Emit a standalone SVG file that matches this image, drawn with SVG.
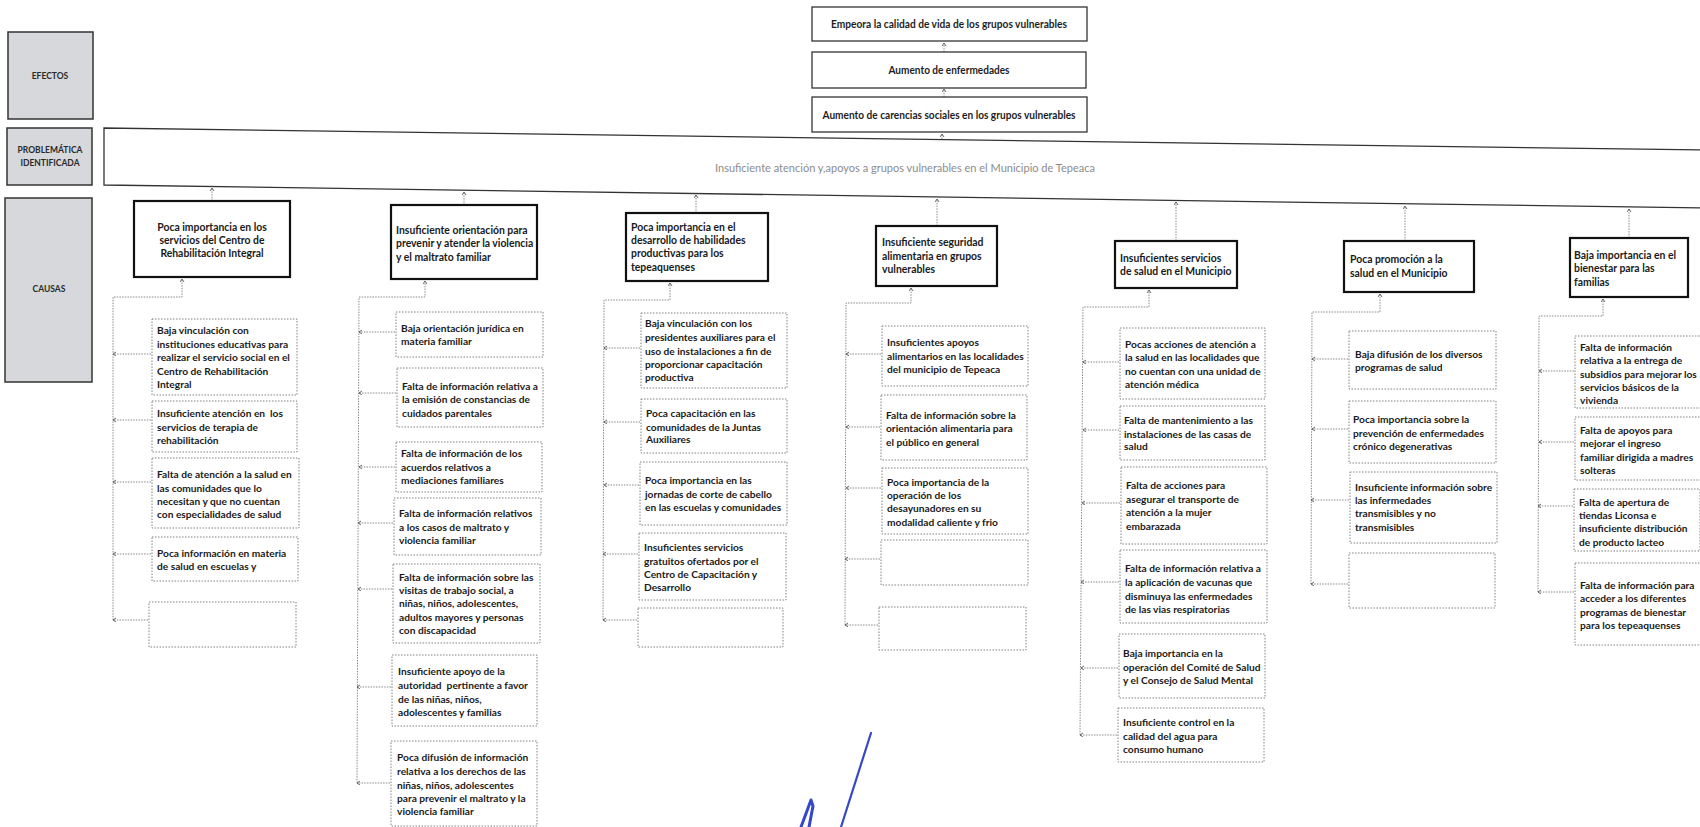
<svg xmlns="http://www.w3.org/2000/svg" width="1700" height="827" viewBox="0 0 1700 827">
<style>
.lab{fill:#d6d8db;stroke:#333;stroke-width:1.5}
.labt{font-family:Lato,"Liberation Sans",sans-serif;font-weight:bold;font-size:8.5px;fill:#2a2a2a;text-anchor:middle}
.eb{fill:#fff;stroke:#333;stroke-width:1.3}
.et{font-family:Lato,"Liberation Sans",sans-serif;font-weight:bold;font-size:11px;fill:#1e1e1e;text-anchor:middle}
.pb{fill:#fff;stroke:#333;stroke-width:1.3}
.pt{font-family:Lato,"Liberation Sans",sans-serif;font-weight:normal;font-size:11px;fill:#8c8c8c;text-anchor:middle}
.kb{fill:#fff;stroke:#111;stroke-width:2.2}
.kt{font-family:Lato,"Liberation Sans",sans-serif;font-weight:bold;font-size:10.4px;fill:#1a1a1a;white-space:pre}
.cb{fill:#fff;stroke:#808080;stroke-width:1;stroke-dasharray:1.5 1.5}
.ct{font-family:Lato,"Liberation Sans",sans-serif;font-weight:bold;font-size:10.2px;fill:#1a1a1a;white-space:pre}
.cn{fill:none;stroke:#8a8a8a;stroke-width:1;stroke-dasharray:1.5 1.2;marker-end:url(#ah)}
</style>
<defs>
<marker id="ah" markerWidth="5" markerHeight="5" refX="3" refY="2" orient="auto" markerUnits="userSpaceOnUse"><path d="M0,0 L3,2 L0,4" fill="none" stroke="#555" stroke-width="0.9"/></marker>
</defs>
<rect width="1700" height="827" fill="#fff"/>

<g id="labels">
<g id="lab-efectos"><rect class="lab" x="8" y="32" width="85" height="87"/><text class="labt" x="50" y="79">EFECTOS</text></g>
<g id="lab-problematica"><rect class="lab" x="7" y="128" width="85" height="57"/><text class="labt" x="50" y="153">PROBLEMÁTICA</text><text class="labt" x="50" y="166">IDENTIFICADA</text></g>
<g id="lab-causas"><rect class="lab" x="5" y="198" width="87" height="184"/><text class="labt" x="49" y="292">CAUSAS</text></g>
</g>

<g id="connectors">
<path class="cn" d="M944 52 L944 43"/>
<path class="cn" d="M944 97 L944 89"/>
<path class="cn" d="M942 139 L942 134"/>
<path class="cn" d="M212 201 L212 188"/>
<path class="cn" d="M464 205 L464 192"/>
<path class="cn" d="M696 213 L696 195"/>
<path class="cn" d="M937 226 L937 199"/>
<path class="cn" d="M1176 241 L1176 202"/>
<path class="cn" d="M1405 241 L1405 206"/>
<path class="cn" d="M1629 238 L1629 209"/>
<!-- column 1 -->
<path class="cn" d="M113 620 L113 297 L182 297 L182 279"/>
<path class="cn" d="M151 354 L113 354"/>
<path class="cn" d="M151 420 L113 420"/>
<path class="cn" d="M151 482 L113 482"/>
<path class="cn" d="M151 554 L113 554"/>
<path class="cn" d="M148 620 L113 620"/>
<!-- column 2 -->
<path class="cn" d="M357 783 L359 297 L425 297 L425 281"/>
<path class="cn" d="M395 332 L359 332"/>
<path class="cn" d="M396 393 L359 393"/>
<path class="cn" d="M395 467 L359 467"/>
<path class="cn" d="M393 523 L358 523"/>
<path class="cn" d="M392 589 L358 589"/>
<path class="cn" d="M391 687 L357 687"/>
<path class="cn" d="M390 783 L357 783"/>
<!-- column 3 -->
<path class="cn" d="M603 620 L604 300 L670 300 L670 283"/>
<path class="cn" d="M640 348 L604 348"/>
<path class="cn" d="M640 422 L604 422"/>
<path class="cn" d="M639 485 L604 485"/>
<path class="cn" d="M638 554 L603 554"/>
<path class="cn" d="M637 620 L603 620"/>
<!-- column 4 -->
<path class="cn" d="M845 625 L846 303 L911 303 L911 288"/>
<path class="cn" d="M881 354 L846 354"/>
<path class="cn" d="M880 427 L846 427"/>
<path class="cn" d="M881 488 L846 488"/>
<path class="cn" d="M880 559 L845 559"/>
<path class="cn" d="M878 625 L845 625"/>
<!-- column 5 -->
<path class="cn" d="M1080 735 L1083 307 L1149 307 L1149 290"/>
<path class="cn" d="M1119 362 L1083 362"/>
<path class="cn" d="M1119 430 L1083 430"/>
<path class="cn" d="M1120 503 L1082 503"/>
<path class="cn" d="M1119 582 L1081 582"/>
<path class="cn" d="M1118 668 L1081 668"/>
<path class="cn" d="M1117 735 L1080 735"/>
<!-- column 6 -->
<path class="cn" d="M1311 584 L1312 312 L1380 312 L1380 294"/>
<path class="cn" d="M1348 359 L1312 359"/>
<path class="cn" d="M1348 429 L1312 429"/>
<path class="cn" d="M1349 500 L1311 500"/>
<path class="cn" d="M1348 584 L1311 584"/>
<!-- column 7 -->
<path class="cn" d="M1538 592 L1539 316 L1603 316 L1603 299"/>
<path class="cn" d="M1574 371 L1539 371"/>
<path class="cn" d="M1574 442 L1539 442"/>
<path class="cn" d="M1573 506 L1538 506"/>
<path class="cn" d="M1574 592 L1538 592"/>
</g>

<g id="effects">
<g id="e1"><rect class="eb" x="812" y="7" width="275" height="34"/><text class="et" x="949" y="28" textLength="236" lengthAdjust="spacingAndGlyphs">Empeora la calidad de vida de los grupos vulnerables</text></g>
<g id="e2"><rect class="eb" x="812" y="52" width="274" height="36"/><text class="et" x="949" y="74" textLength="121" lengthAdjust="spacingAndGlyphs">Aumento de enfermedades</text></g>
<g id="e3"><rect class="eb" x="812" y="97" width="275" height="35"/><text class="et" x="949" y="119" textLength="253" lengthAdjust="spacingAndGlyphs">Aumento de carencias sociales en los grupos vulnerables</text></g>
</g>

<g id="problem">
<path class="pb" d="M1702 150 L104 128 L104 185 L1702 208"/>
<text class="pt" x="905" y="172" textLength="380" lengthAdjust="spacingAndGlyphs">Insuficiente atención y,apoyos a grupos vulnerables en el Municipio de Tepeaca</text>
</g>

<g id="causes">
<g id="k1"><rect class="kb" x="134" y="201" width="156" height="76"/><text class="kt" text-anchor="middle"><tspan x="212" y="231">Poca importancia en los</tspan><tspan x="212" y="244">servicios del Centro de</tspan><tspan x="212" y="257">Rehabilitación Integral</tspan></text></g>
<g id="k2"><rect class="kb" x="391" y="205" width="146" height="74"/><text class="kt"><tspan x="396" y="234">Insuficiente orientación para</tspan><tspan x="396" y="247">prevenir y atender la violencia</tspan><tspan x="396" y="261">y el maltrato familiar</tspan></text></g>
<g id="k3"><rect class="kb" x="626" y="213" width="142" height="68"/><text class="kt"><tspan x="631" y="231">Poca importancia en el</tspan><tspan x="631" y="244">desarrollo de habilidades</tspan><tspan x="631" y="257">productivas para los</tspan><tspan x="631" y="271">tepeaquenses</tspan></text></g>
<g id="k4"><rect class="kb" x="876" y="226" width="121" height="60"/><text class="kt"><tspan x="882" y="246">Insuficiente seguridad</tspan><tspan x="882" y="260">alimentaria en grupos</tspan><tspan x="882" y="273">vulnerables</tspan></text></g>
<g id="k5"><rect class="kb" x="1115" y="241" width="122" height="47"/><text class="kt"><tspan x="1120" y="262">Insuficientes servicios</tspan><tspan x="1120" y="275">de salud en el Municipio</tspan></text></g>
<g id="k6"><rect class="kb" x="1344" y="241" width="130" height="51"/><text class="kt"><tspan x="1350" y="263">Poca promoción a la</tspan><tspan x="1350" y="277">salud en el Municipio</tspan></text></g>
<g id="k7"><rect class="kb" x="1570" y="238" width="118" height="59"/><text class="kt"><tspan x="1574" y="259">Baja importancia en el</tspan><tspan x="1574" y="272">bienestar para las</tspan><tspan x="1574" y="286">familias</tspan></text></g>
</g>

<g id="col1">
<g id="n1a"><rect class="cb" x="152" y="319" width="145" height="76"/><text class="ct"><tspan x="157" y="334">Baja vinculación con</tspan><tspan x="157" y="348">instituciones educativas para</tspan><tspan x="157" y="361">realizar el servicio social en el</tspan><tspan x="157" y="375">Centro de Rehabilitación</tspan><tspan x="157" y="388">Integral</tspan></text></g>
<g id="n1b"><rect class="cb" x="152" y="401" width="145" height="51"/><text class="ct"><tspan x="157" y="417">Insuficiente atención en  los</tspan><tspan x="157" y="431">servicios de terapia de</tspan><tspan x="157" y="444">rehabilitación</tspan></text></g>
<g id="n1c"><rect class="cb" x="152" y="458" width="147" height="70"/><text class="ct"><tspan x="157" y="478">Falta de atención a la salud en</tspan><tspan x="157" y="492">las comunidades que lo</tspan><tspan x="157" y="505">necesitan y que no cuentan</tspan><tspan x="157" y="518">con especialidades de salud</tspan></text></g>
<g id="n1d"><rect class="cb" x="152" y="537" width="146" height="44"/><text class="ct"><tspan x="157" y="557">Poca información en materia</tspan><tspan x="157" y="570">de salud en escuelas y</tspan></text></g>
<g id="n1e"><rect class="cb" x="149" y="602" width="147" height="45"/></g>
</g>

<g id="col2">
<g id="n2a"><rect class="cb" x="396" y="312" width="147" height="45"/><text class="ct"><tspan x="401" y="332">Baja orientación jurídica en</tspan><tspan x="401" y="345">materia familiar</tspan></text></g>
<g id="n2b"><rect class="cb" x="397" y="368" width="146" height="59"/><text class="ct"><tspan x="402" y="390">Falta de información relativa a</tspan><tspan x="402" y="403">la emisión de constancias de</tspan><tspan x="402" y="417">cuidados parentales</tspan></text></g>
<g id="n2c"><rect class="cb" x="396" y="442" width="146" height="50"/><text class="ct"><tspan x="401" y="457">Falta de información de los</tspan><tspan x="401" y="471">acuerdos relativos a</tspan><tspan x="401" y="484">mediaciones familiares</tspan></text></g>
<g id="n2d"><rect class="cb" x="394" y="498" width="147" height="57"/><text class="ct"><tspan x="399" y="517">Falta de información relativos</tspan><tspan x="399" y="531">a los casos de maltrato y</tspan><tspan x="399" y="544">violencia familiar</tspan></text></g>
<g id="n2e"><rect class="cb" x="393" y="564" width="147" height="79"/><text class="ct"><tspan x="399" y="581">Falta de información sobre las</tspan><tspan x="399" y="594">visitas de trabajo social, a</tspan><tspan x="399" y="607">niñas, niños, adolescentes,</tspan><tspan x="399" y="621">adultos mayores y personas</tspan><tspan x="399" y="634">con discapacidad</tspan></text></g>
<g id="n2f"><rect class="cb" x="392" y="655" width="145" height="71"/><text class="ct"><tspan x="398" y="675">Insuficiente apoyo de la</tspan><tspan x="398" y="689">autoridad  pertinente a favor</tspan><tspan x="398" y="703">de las niñas, niños,</tspan><tspan x="398" y="716">adolescentes y familias</tspan></text></g>
<g id="n2g"><rect class="cb" x="391" y="741" width="146" height="85"/><text class="ct"><tspan x="397" y="761">Poca difusión de información</tspan><tspan x="397" y="775">relativa a los derechos de las</tspan><tspan x="397" y="789">niñas, niños, adolescentes</tspan><tspan x="397" y="802">para prevenir el maltrato y la</tspan><tspan x="397" y="815">violencia familiar</tspan></text></g>
</g>

<g id="col3">
<g id="n3a"><rect class="cb" x="641" y="313" width="146" height="75"/><text class="ct"><tspan x="645" y="327">Baja vinculación con los</tspan><tspan x="645" y="341">presidentes auxiliares para el</tspan><tspan x="645" y="355">uso de instalaciones a fin de</tspan><tspan x="645" y="368">proporcionar capacitación</tspan><tspan x="645" y="381">productiva</tspan></text></g>
<g id="n3b"><rect class="cb" x="641" y="399" width="146" height="54"/><text class="ct"><tspan x="646" y="417">Poca capacitación en las</tspan><tspan x="646" y="431">comunidades de la Juntas</tspan><tspan x="646" y="443">Auxiliares</tspan></text></g>
<g id="n3c"><rect class="cb" x="640" y="462" width="147" height="63"/><text class="ct"><tspan x="645" y="484">Poca importancia en las</tspan><tspan x="645" y="498">jornadas de corte de cabello</tspan><tspan x="645" y="511">en las escuelas y comunidades</tspan></text></g>
<g id="n3d"><rect class="cb" x="639" y="533" width="147" height="67"/><text class="ct"><tspan x="644" y="551">Insuficientes servicios</tspan><tspan x="644" y="565">gratuitos ofertados por el</tspan><tspan x="644" y="578">Centro de Capacitación y</tspan><tspan x="644" y="591">Desarrollo</tspan></text></g>
<g id="n3e"><rect class="cb" x="638" y="608" width="145" height="39"/></g>
</g>

<g id="col4">
<g id="n4a"><rect class="cb" x="882" y="326" width="146" height="60"/><text class="ct"><tspan x="887" y="346">Insuficientes apoyos</tspan><tspan x="887" y="360">alimentarios en las localidades</tspan><tspan x="887" y="373">del municipio de Tepeaca</tspan></text></g>
<g id="n4b"><rect class="cb" x="881" y="395" width="146" height="65"/><text class="ct"><tspan x="886" y="419">Falta de información sobre la</tspan><tspan x="886" y="432">orientación alimentaria para</tspan><tspan x="886" y="446">el público en general</tspan></text></g>
<g id="n4c"><rect class="cb" x="882" y="468" width="146" height="66"/><text class="ct"><tspan x="887" y="486">Poca importancia de la</tspan><tspan x="887" y="499">operación de los</tspan><tspan x="887" y="512">desayunadores en su</tspan><tspan x="887" y="526">modalidad caliente y frio</tspan></text></g>
<g id="n4d"><rect class="cb" x="881" y="540" width="147" height="45"/></g>
<g id="n4e"><rect class="cb" x="879" y="607" width="147" height="43"/></g>
</g>

<g id="col5">
<g id="n5a"><rect class="cb" x="1120" y="328" width="145" height="71"/><text class="ct"><tspan x="1125" y="348">Pocas acciones de atención a</tspan><tspan x="1125" y="361">la salud en las localidades que</tspan><tspan x="1125" y="375">no cuentan con una unidad de</tspan><tspan x="1125" y="388">atención médica</tspan></text></g>
<g id="n5b"><rect class="cb" x="1120" y="406" width="145" height="54"/><text class="ct"><tspan x="1124" y="424">Falta de mantenimiento a las</tspan><tspan x="1124" y="438">instalaciones de las casas de</tspan><tspan x="1124" y="450">salud</tspan></text></g>
<g id="n5c"><rect class="cb" x="1121" y="467" width="146" height="77"/><text class="ct"><tspan x="1126" y="489">Falta de acciones para</tspan><tspan x="1126" y="503">asegurar el transporte de</tspan><tspan x="1126" y="516">atención a la mujer</tspan><tspan x="1126" y="530">embarazada</tspan></text></g>
<g id="n5d"><rect class="cb" x="1120" y="550" width="147" height="73"/><text class="ct"><tspan x="1125" y="572">Falta de información relativa a</tspan><tspan x="1125" y="586">la aplicación de vacunas que</tspan><tspan x="1125" y="600">disminuya las enfermedades</tspan><tspan x="1125" y="613">de las vias respiratorias</tspan></text></g>
<g id="n5e"><rect class="cb" x="1119" y="634" width="146" height="64"/><text class="ct"><tspan x="1123" y="657">Baja importancia en la</tspan><tspan x="1123" y="671">operación del Comité de Salud</tspan><tspan x="1123" y="684">y el Consejo de Salud Mental</tspan></text></g>
<g id="n5f"><rect class="cb" x="1118" y="708" width="146" height="54"/><text class="ct"><tspan x="1123" y="726">Insuficiente control en la</tspan><tspan x="1123" y="740">calidad del agua para</tspan><tspan x="1123" y="753">consumo humano</tspan></text></g>
</g>

<g id="col6">
<g id="n6a"><rect class="cb" x="1349" y="331" width="147" height="58"/><text class="ct"><tspan x="1355" y="358">Baja difusión de los diversos</tspan><tspan x="1355" y="371">programas de salud</tspan></text></g>
<g id="n6b"><rect class="cb" x="1349" y="401" width="147" height="62"/><text class="ct"><tspan x="1353" y="423">Poca importancia sobre la</tspan><tspan x="1353" y="437">prevención de enfermedades</tspan><tspan x="1353" y="450">crónico degenerativas</tspan></text></g>
<g id="n6c"><rect class="cb" x="1350" y="472" width="147" height="71"/><text class="ct"><tspan x="1355" y="491">Insuficiente información sobre</tspan><tspan x="1355" y="504">las infermedades</tspan><tspan x="1355" y="517">transmisibles y no</tspan><tspan x="1355" y="531">transmisibles</tspan></text></g>
<g id="n6d"><rect class="cb" x="1349" y="553" width="146" height="55"/></g>
</g>

<g id="col7">
<g id="n7a"><rect class="cb" x="1575" y="336" width="126" height="72"/><text class="ct"><tspan x="1580" y="351">Falta de información</tspan><tspan x="1580" y="364">relativa a la entrega de</tspan><tspan x="1580" y="378">subsidios para mejorar los</tspan><tspan x="1580" y="391">servicios básicos de la</tspan><tspan x="1580" y="404">vivienda</tspan></text></g>
<g id="n7b"><rect class="cb" x="1575" y="417" width="126" height="63"/><text class="ct"><tspan x="1580" y="434">Falta de apoyos para</tspan><tspan x="1580" y="447">mejorar el ingreso</tspan><tspan x="1580" y="461">familiar dirigida a madres</tspan><tspan x="1580" y="474">solteras</tspan></text></g>
<g id="n7c"><rect class="cb" x="1574" y="489" width="126" height="62"/><text class="ct"><tspan x="1579" y="506">Falta de apertura de</tspan><tspan x="1579" y="519">tiendas Liconsa e</tspan><tspan x="1579" y="532">insuficiente distribución</tspan><tspan x="1579" y="546">de producto lacteo</tspan></text></g>
<g id="n7d"><rect class="cb" x="1575" y="563" width="126" height="82"/><text class="ct"><tspan x="1580" y="589">Falta de información para</tspan><tspan x="1580" y="602">acceder a los diferentes</tspan><tspan x="1580" y="616">programas de bienestar</tspan><tspan x="1580" y="629">para los tepeaquenses</tspan></text></g>
</g>

<g id="signature" fill="none" stroke="#3548c8" stroke-linecap="round" stroke-linejoin="round">
<path d="M871 733 L841 827" stroke-width="2.2"/>
<path d="M801 827 L811 800 L813 806 L809 827" stroke-width="3"/>
</g>
</svg>
